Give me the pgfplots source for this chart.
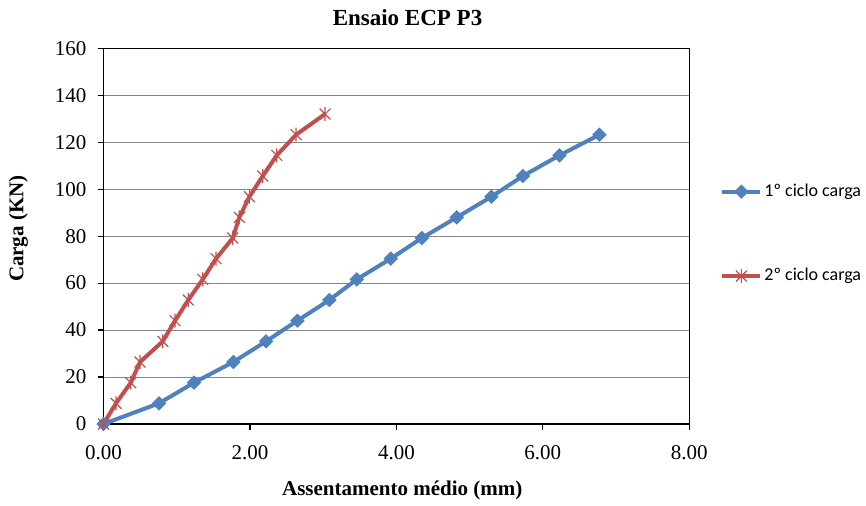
\documentclass[border=0pt]{standalone}
\usepackage{fontspec}
\setmainfont{Liberation Serif}
\newfontfamily\carlito{Carlito}
\usepackage{pgfplots}
\pgfplotsset{compat=1.18}
\definecolor{serA}{HTML}{4F81BD}
\definecolor{serB}{HTML}{C0504D}
\definecolor{gridc}{HTML}{868686}
\pgfdeclareplotmark{xstar}{%
  \pgfpathmoveto{\pgfqpoint{-\pgfplotmarksize}{-\pgfplotmarksize}}%
  \pgfpathlineto{\pgfqpoint{\pgfplotmarksize}{\pgfplotmarksize}}%
  \pgfpathmoveto{\pgfqpoint{-\pgfplotmarksize}{\pgfplotmarksize}}%
  \pgfpathlineto{\pgfqpoint{\pgfplotmarksize}{-\pgfplotmarksize}}%
  \pgfpathmoveto{\pgfqpoint{0pt}{-1.3\pgfplotmarksize}}%
  \pgfpathlineto{\pgfqpoint{0pt}{1.3\pgfplotmarksize}}%
  \pgfusepathqstroke}
\begin{document}
\begin{tikzpicture}
\path[use as bounding box] (0,0) rectangle (433pt,253pt);
\begin{axis}[
  at={(51.75pt,41pt)}, anchor=south west,
  scale only axis, width=292.9pt, height=187.85pt,
  xmin=0, xmax=8, ymin=0, ymax=160,
  xtick={0,2,4,6,8}, ytick={0,20,...,160},
  /pgf/number format/assume math mode=true,
  tick label style={font=\fontsize{10.5}{12}\selectfont},
  xticklabel style={yshift=-4pt, /pgf/number format/.cd, fixed, fixed zerofill, precision=2},
  yticklabel style={xshift=-2pt},
  tick align=outside, major tick length=3pt,
  xtick pos=bottom, ytick pos=left,
  ymajorgrids, grid style={gridc, line width=0.5pt},
  axis line style={black, line width=0.6pt},
  tick style={black, line width=0.6pt},
  title={\bfseries Ensaio ECP P3},
  title style={font=\fontsize{11.5}{13}\selectfont, at={(rel axis cs:0.519,1)}, anchor=center, yshift=9.5pt},
  xlabel={\bfseries Assentamento médio (mm)},
  xlabel style={font=\fontsize{10.5}{12}\selectfont, at={(rel axis cs:0.51,0)}, anchor=center, yshift=-33pt},
  ylabel={\bfseries Carga (KN)},
  ylabel style={font=\fontsize{10.5}{12}\selectfont, at={(axis description cs:-0.1451,0.52)}, anchor=center},
  legend style={draw=none, fill=none, font=\carlito\fontsize{9}{10}\selectfont,
    at={(axis description cs:1.0524,0.506)}, anchor=west, inner sep=0pt,
    row sep=34.5pt, nodes={inner xsep=1pt, inner ysep=0pt}},
  legend cell align=left,
  legend image code/.code={\draw[mark repeat=2,mark phase=2] plot coordinates {(0pt,0pt) (9.5pt,0pt) (19pt,0pt)};},
]
\addplot[serA, line width=2pt, mark=square*, mark size=2.3pt, mark options={rotate=45, line width=0.5pt, fill=serA}]
coordinates {
(0,0) (0.758,8.8) (1.236,17.6) (1.773,26.4) (2.220,35.2) (2.648,44.0) (3.085,52.8) (3.459,61.6)
(3.923,70.4) (4.347,79.2) (4.825,88.0) (5.298,96.8) (5.727,105.6) (6.227,114.4) (6.773,123.2)
};
\addlegendentry{1º ciclo carga}
\addplot[serB, line width=2pt, mark=xstar, mark size=2.7pt, mark options={line width=0.6pt}]
coordinates {
(0,0) (0.171,8.8) (0.372,17.6) (0.499,26.4) (0.809,35.2) (0.977,44.0) (1.158,52.8) (1.355,61.6)
(1.537,70.4) (1.765,79.2) (1.855,88.0) (1.992,96.8) (2.175,105.6) (2.366,114.4) (2.630,123.2) (3.026,132.0)
};
\addlegendentry{2º ciclo carga}
\end{axis}
\end{tikzpicture}
\end{document}
